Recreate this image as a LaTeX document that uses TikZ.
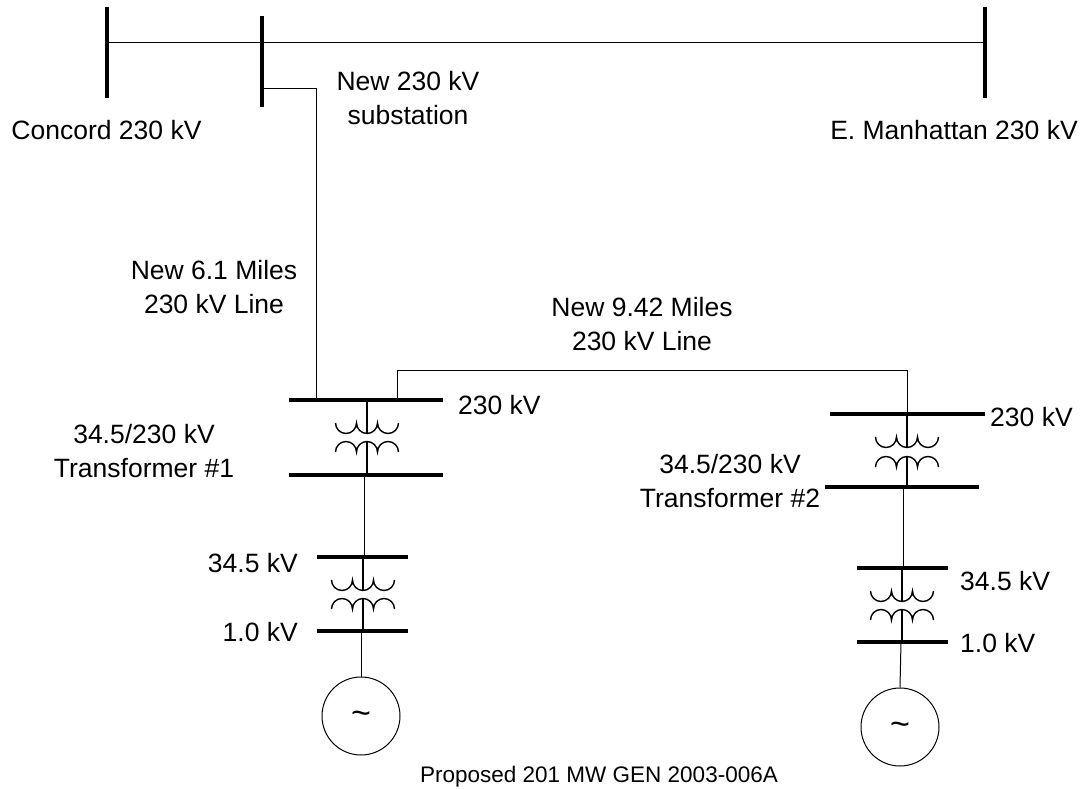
\documentclass[tikz,border=0pt]{standalone}
\usepackage{fontspec}
\setmainfont{Liberation Sans}
\begin{document}
\begin{tikzpicture}[x=1pt,y=-1pt,
  lbl/.style={inner sep=0pt,anchor=base,align=center,font=\fontsize{26.5}{34}\selectfont},
  bus/.style={line width=4pt},
  wire/.style={line width=1pt},
  coil/.style={line width=1.4pt},
  gen/.style={circle,draw,line width=1pt,minimum size=78pt,inner sep=0pt},
  tilde/.style={inner sep=0pt,font=\fontsize{34}{34}\selectfont}]
\useasboundingbox (0,0) rectangle (1088,789);

% top buses
\coordinate (c1) at (107,7);   \coordinate (c2) at (107,98);
\coordinate (s1) at (262,16);  \coordinate (s2) at (262,107);
\coordinate (m1) at (985,7);   \coordinate (m2) at (985,98);
\draw[bus] (c1) -- (c2);
\draw[bus] (s1) -- (s2);
\draw[bus] (m1) -- (m2);
\coordinate (ca) at (107,43); \coordinate (ma) at (985,43);
\draw[wire] (ca) -- (ma);

% transformer 1 upper buses
\coordinate (t1a) at (289,400); \coordinate (t1b) at (443,400);
\coordinate (t1c) at (289,475); \coordinate (t1d) at (443,475);
\draw[bus] (t1a) -- (t1b);
\draw[bus] (t1c) -- (t1d);
% 6.1 mile line
\coordinate (sb) at (262,89);
\draw[wire] (sb) -- (316,89) -- (316,400);
% 9.42 mile line
\draw[wire] (397,400) -- (397,370) -- (907,370) -- (907,414);

% transformer 2 upper buses
\coordinate (t2a) at (830,414); \coordinate (t2b) at (985,414);
\coordinate (t2c) at (825,487); \coordinate (t2d) at (979,487);
\draw[bus] (t2a) -- (t2b);
\draw[bus] (t2c) -- (t2d);

% lower buses
\draw[bus] (317,557) -- (408,557);
\draw[bus] (317,631) -- (408,631);
\draw[bus] (857,568) -- (948,568);
\draw[bus] (857,642) -- (948,642);

% transformer windings
\foreach \cx/\ya/\yb/\ytop/\ybot in {367/423/452/400/475, 363/580/609/557/631, 907/437/467/414/487, 902/591/620/568/642}{
  \draw[coil] (\cx-31.5,\ya) arc[start angle=180,end angle=0,radius=10.5]
                             arc[start angle=180,end angle=0,radius=10.5]
                             arc[start angle=180,end angle=0,radius=10.5];
  \draw[coil] (\cx-31.5,\yb) arc[start angle=180,end angle=360,radius=10.5]
                             arc[start angle=180,end angle=360,radius=10.5]
                             arc[start angle=180,end angle=360,radius=10.5];
  \draw[coil] (\cx,\ytop) -- (\cx,\ya+10.5);
  \draw[coil] (\cx,\yb-10.5) -- (\cx,\ybot);
}
% links between buses
\draw[wire] (364,475) -- (364,557);
\draw[wire] (903,487) -- (903,568);

% generators
\node[gen] (g1) at (361,716) {};
\node[gen] (g2) at (900,727) {};
\node[tilde] (g1s) at (361,718) {\char`\~};
\node[tilde] (g2s) at (900,729) {\char`\~};
\coordinate (g1t) at (361,631);
\coordinate (g2t) at (901,642);
\draw[wire] (g1t) -- (g1.north);
\draw[wire] (g2t) -- (g2.north);

% labels
\node[lbl] (lc) at (106.5,140) {Concord 230 kV};
\node[lbl] (ls) at (408,125) {New 230 kV\\substation};
\node[lbl] (lm) at (954,140) {E. Manhattan 230 kV};
\node[lbl] (l61) at (214,313) {New 6.1 Miles\\230 kV Line};
\node[lbl] (l94) at (642,350) {New 9.42 Miles\\230 kV Line};
\node[lbl,anchor=base west] (l230a) at (458,414) {230 kV};
\node[lbl] (lt1) at (144,477) {34.5/230 kV\\Transformer \#1};
\node[lbl,anchor=base east] (l345a) at (298,572) {34.5 kV};
\node[lbl,anchor=base east] (l10a) at (298,641) {1.0 kV};
\node[lbl,anchor=base west] (l230b) at (990,426) {230 kV};
\node[lbl] (lt2) at (730,507) {34.5/230 kV\\Transformer \#2};
\node[lbl,anchor=base west] (l345b) at (960,590) {34.5 kV};
\node[lbl,anchor=base west] (l10b) at (960,652) {1.0 kV};
\node[lbl,font=\fontsize{22.5}{28}\selectfont] (lp) at (599,782) {Proposed 201 MW GEN 2003-006A};
\end{tikzpicture}
\end{document}
